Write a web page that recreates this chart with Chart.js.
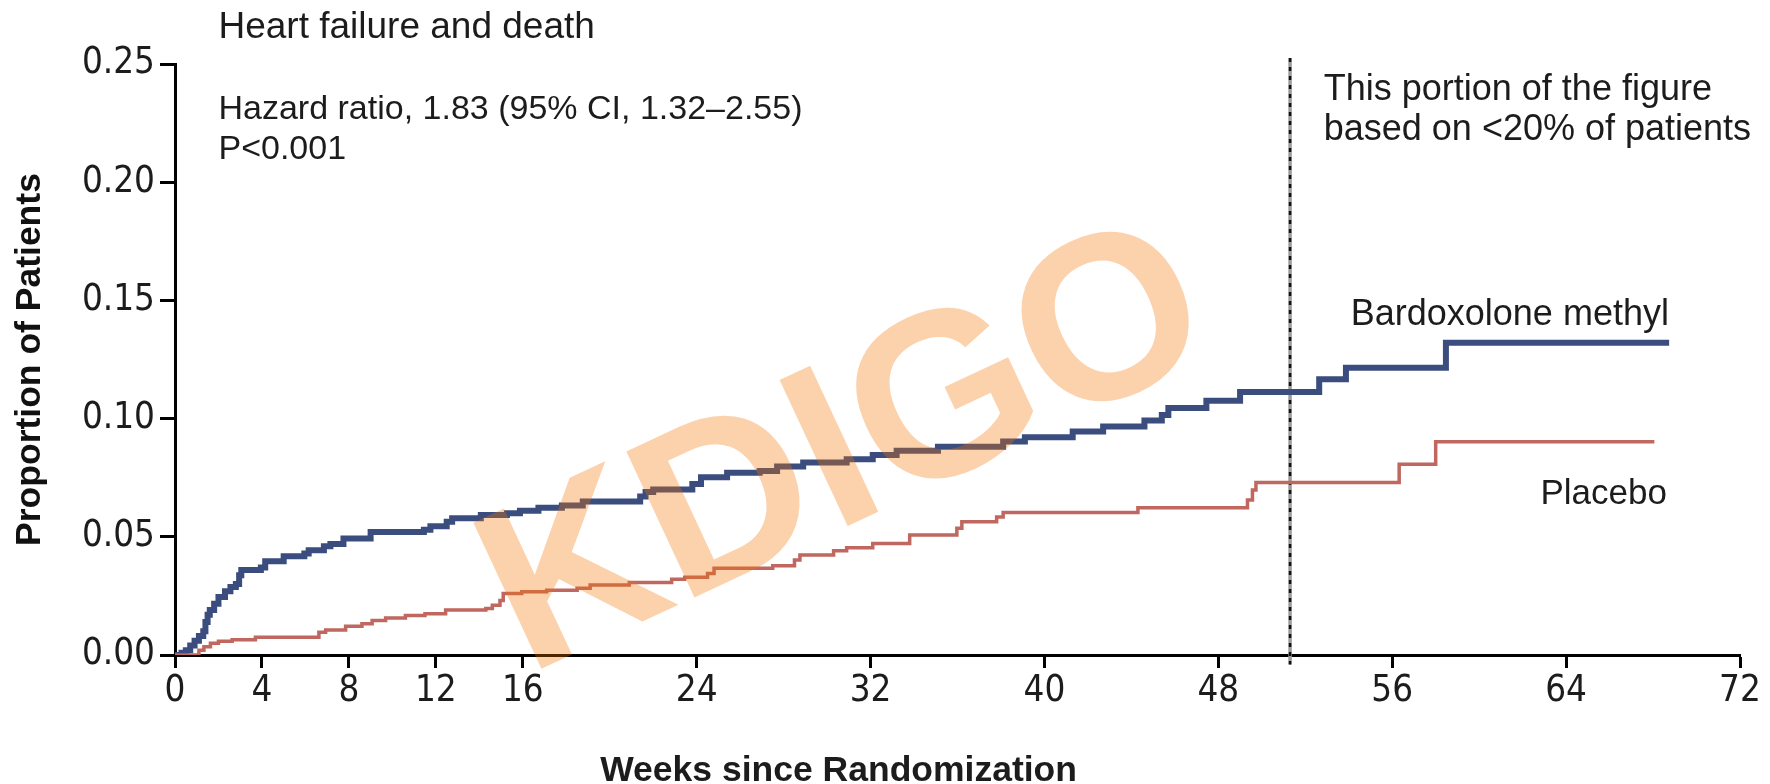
<!DOCTYPE html>
<html>
<head>
<meta charset="utf-8">
<script src="https://cdn.jsdelivr.net/npm/chart.js@4.4.1/dist/chart.umd.min.js"></script>
<style>
  html, body { margin: 0; padding: 0; background: #fff; }
  #wrap { width: 1770px; height: 784px; position: relative; }
</style>
</head>
<body>
<div id="wrap"><canvas id="km"></canvas></div>
<script>
// Curvas de Kaplan-Meier (semana do evento -> proporção acumulada)
const bardWeeks = [0, 0.3, 0.5, 0.7, 0.9, 1.1, 1.3, 1.4, 1.5, 1.6, 1.8, 2.0, 2.3, 2.55, 2.8, 2.95, 3.05, 3.95, 4.15, 5.0,
  5.95, 6.15, 6.85, 7.15, 7.75, 9.0, 11.45, 11.75, 12.5, 12.75, 14.07, 15.27, 15.87, 16.72, 17.8, 18.76, 21.4, 21.65, 22.0, 23.8,
  24.2, 25.4, 26.9, 27.7, 28.9, 30.9, 32.1, 33.2, 35.1, 38.1, 39.1, 41.3, 42.7, 44.6, 45.4, 45.7, 47.45, 49.0, 52.64, 53.87,
  58.47, 68.74];
const bardProp = [0, 0.001, 0.002, 0.004, 0.006, 0.008, 0.010, 0.014, 0.017, 0.019, 0.0217, 0.0245, 0.027, 0.0288, 0.030, 0.0337, 0.036, 0.037, 0.0397, 0.0418,
  0.0429, 0.0443, 0.046, 0.047, 0.0493, 0.052, 0.053, 0.0545, 0.0564, 0.0578, 0.0592, 0.060, 0.061, 0.0623, 0.0632, 0.0649, 0.067, 0.069, 0.070, 0.0723,
  0.0752, 0.0771, 0.0778, 0.0797, 0.0814, 0.0828, 0.0846, 0.0864, 0.0881, 0.0903, 0.0921, 0.0945, 0.0967, 0.0992, 0.1015, 0.1045, 0.1076, 0.1112, 0.1166, 0.1215,
  0.1321, 0.1321];

const placWeeks = [0, 1.1, 1.33, 1.63, 2.0, 2.63, 3.7, 6.62, 6.93, 7.85, 8.6, 9.07, 9.69, 10.6, 11.5, 12.45, 14.3, 14.6, 14.95, 15.1,
  15.95, 17.1, 18.5, 19.1, 20.9, 22.85, 23.45, 24.5, 24.8, 27.5, 28.5, 28.75, 30.3, 30.9, 32.1, 33.8, 35.97, 36.2, 37.8, 38.1,
  44.3, 49.34, 49.57, 49.73, 56.32, 58.0, 68.06];
const placProp = [0, 0.002, 0.0035, 0.005, 0.0058, 0.0065, 0.0075, 0.0096, 0.0106, 0.0122, 0.0132, 0.0146, 0.0156, 0.0167, 0.0175, 0.019, 0.0197, 0.021, 0.0231, 0.026,
  0.0268, 0.0274, 0.0282, 0.0296, 0.0307, 0.032, 0.0329, 0.0345, 0.0367, 0.0378, 0.0402, 0.0423, 0.0441, 0.0454, 0.0472, 0.0508, 0.0536, 0.0564, 0.0584, 0.0603,
  0.0623, 0.0656, 0.0698, 0.073, 0.0807, 0.0902, 0.0902];

// Eixos
const xTickVals = [0, 4, 8, 12, 16, 24, 32, 40, 48, 56, 64, 72];
const yTickVals = [0, 0.05, 0.10, 0.15, 0.20, 0.25];
const cutoffWeek = 51.3; // linha tracejada (<20% dos pacientes)

const SANS = '"Liberation Sans", Arial, sans-serif';
const NARROW = '"Liberation Sans Narrow", "DejaVu Sans Condensed", "Liberation Sans", sans-serif';
const INK = '#1c1c1c';

// Textos posicionados em coordenadas dos eixos (semanas, proporção)
const notes = [
  { text: 'Heart failure and death', x: 2.0, y: 0.261, align: 'left', font: '37px ' + SANS },
  { text: 'Hazard ratio, 1.83 (95% CI, 1.32\u20132.55)', x: 2.0, y: 0.2267, align: 'left', font: '34px ' + SANS },
  { text: 'P<0.001', x: 2.0, y: 0.2098, align: 'left', font: '34px ' + SANS },
  { text: 'This portion of the figure', x: 52.85, y: 0.2346, align: 'left', font: '36px ' + SANS },
  { text: 'based on <20% of patients', x: 52.85, y: 0.2178, align: 'left', font: '36px ' + SANS },
  { text: 'Bardoxolone methyl', x: 68.73, y: 0.1396, align: 'right', font: '36px ' + SANS },
  { text: 'Placebo', x: 68.64, y: 0.0637, align: 'right', font: '35px ' + SANS },
  { text: 'Weeks since Randomization', x: 30.53, y: -0.0533, align: 'center', font: 'bold 35.5px ' + SANS }
];

const toPoints = (xs, ys) => xs.map((v, i) => ({ x: v, y: ys[i] }));

// marca d'água KDIGO desenhada por cima das curvas
const overlayPlugin = {
  id: 'overlay',
  afterDraw(chart) {
    const { ctx, scales: { x, y } } = chart;
    ctx.save();
    ctx.translate(x.getPixelForValue(16.2), y.getPixelForValue(-0.0086));
    ctx.rotate(-25 * Math.PI / 180);
    ctx.fillStyle = 'rgba(247, 115, 0, 0.32)';
    ctx.font = 'bold 234px ' + SANS;
    ctx.textBaseline = 'alphabetic';
    ctx.textAlign = 'left';
    ctx.fillText('KDIGO', 0, 0);
    ctx.restore();

    ctx.save();
    ctx.fillStyle = INK;
    ctx.textBaseline = 'alphabetic';
    notes.forEach((n) => {
      ctx.font = n.font;
      ctx.textAlign = n.align;
      ctx.fillText(n.text, x.getPixelForValue(n.x), y.getPixelForValue(n.y));
    });
    ctx.restore();
  }
};

const ctx = document.getElementById('km').getContext('2d');
new Chart(ctx, {
  type: 'line',
  data: {
    datasets: [
      {
        label: 'Placebo',
        data: toPoints(placWeeks, placProp),
        borderColor: '#c0675f',
        borderWidth: 3.5,
        stepped: true,
        pointRadius: 0,
        fill: false
      },
      {
        label: 'Bardoxolone methyl',
        data: toPoints(bardWeeks, bardProp),
        borderColor: '#3a4d7e',
        borderWidth: 6,
        stepped: true,
        pointRadius: 0,
        fill: false
      },
      {
        label: 'corte',
        data: [{ x: cutoffWeek, y: 0.2525 }, { x: cutoffWeek, y: -0.004 }],
        borderColor: '#111',
        borderWidth: 2.5,
        borderDash: [4, 5],
        pointRadius: 0,
        clip: false
      },
      {
        label: 'corte-fundo',
        data: [{ x: cutoffWeek, y: 0.2525 }, { x: cutoffWeek, y: -0.004 }],
        borderColor: '#9c9c9c',
        borderWidth: 3.5,
        pointRadius: 0,
        clip: false
      }
    ]
  },
  options: {
    responsive: true,
    maintainAspectRatio: false,
    animation: false,
    layout: { padding: { top: 64, right: 30, left: 0, bottom: 0 } },
    plugins: {
      legend: { display: false },
      tooltip: { enabled: false }
    },
    scales: {
      x: {
        type: 'linear',
        min: 0,
        max: 72,
        afterBuildTicks: (axis) => {
          axis.ticks = xTickVals.map((v) => ({ value: v }));
        },
        afterFit: (axis) => { axis.height = 129; },
        grid: { drawOnChartArea: false, drawTicks: true, tickLength: 13, tickWidth: 3, tickColor: '#000' },
        border: { display: true, color: '#000', width: 3 },
        ticks: {
          autoSkip: false,
          maxRotation: 0,
          padding: 2,
          color: INK,
          font: { family: NARROW, size: 36.5 },
          callback: (v) => String(v)
        }
      },
      y: {
        type: 'linear',
        min: 0,
        max: 0.25,
        afterBuildTicks: (axis) => {
          axis.ticks = yTickVals.map((v) => ({ value: v }));
        },
        afterFit: (axis) => { axis.width = 175; },
        grid: { drawOnChartArea: false, drawTicks: true, tickLength: 15, tickWidth: 3, tickColor: '#000' },
        border: { display: true, color: '#000', width: 3 },
        ticks: {
          padding: 5,
          color: INK,
          font: { family: NARROW, size: 36.5 },
          callback: (v) => Number(v).toFixed(2)
        },
        title: {
          display: true,
          text: 'Proportion of Patients',
          color: '#111',
          font: { family: SANS, size: 35.5, weight: 'bold' },
          padding: { top: 9, bottom: 0 }
        }
      }
    }
  },
  plugins: [overlayPlugin]
});
</script>
</body>
</html>
